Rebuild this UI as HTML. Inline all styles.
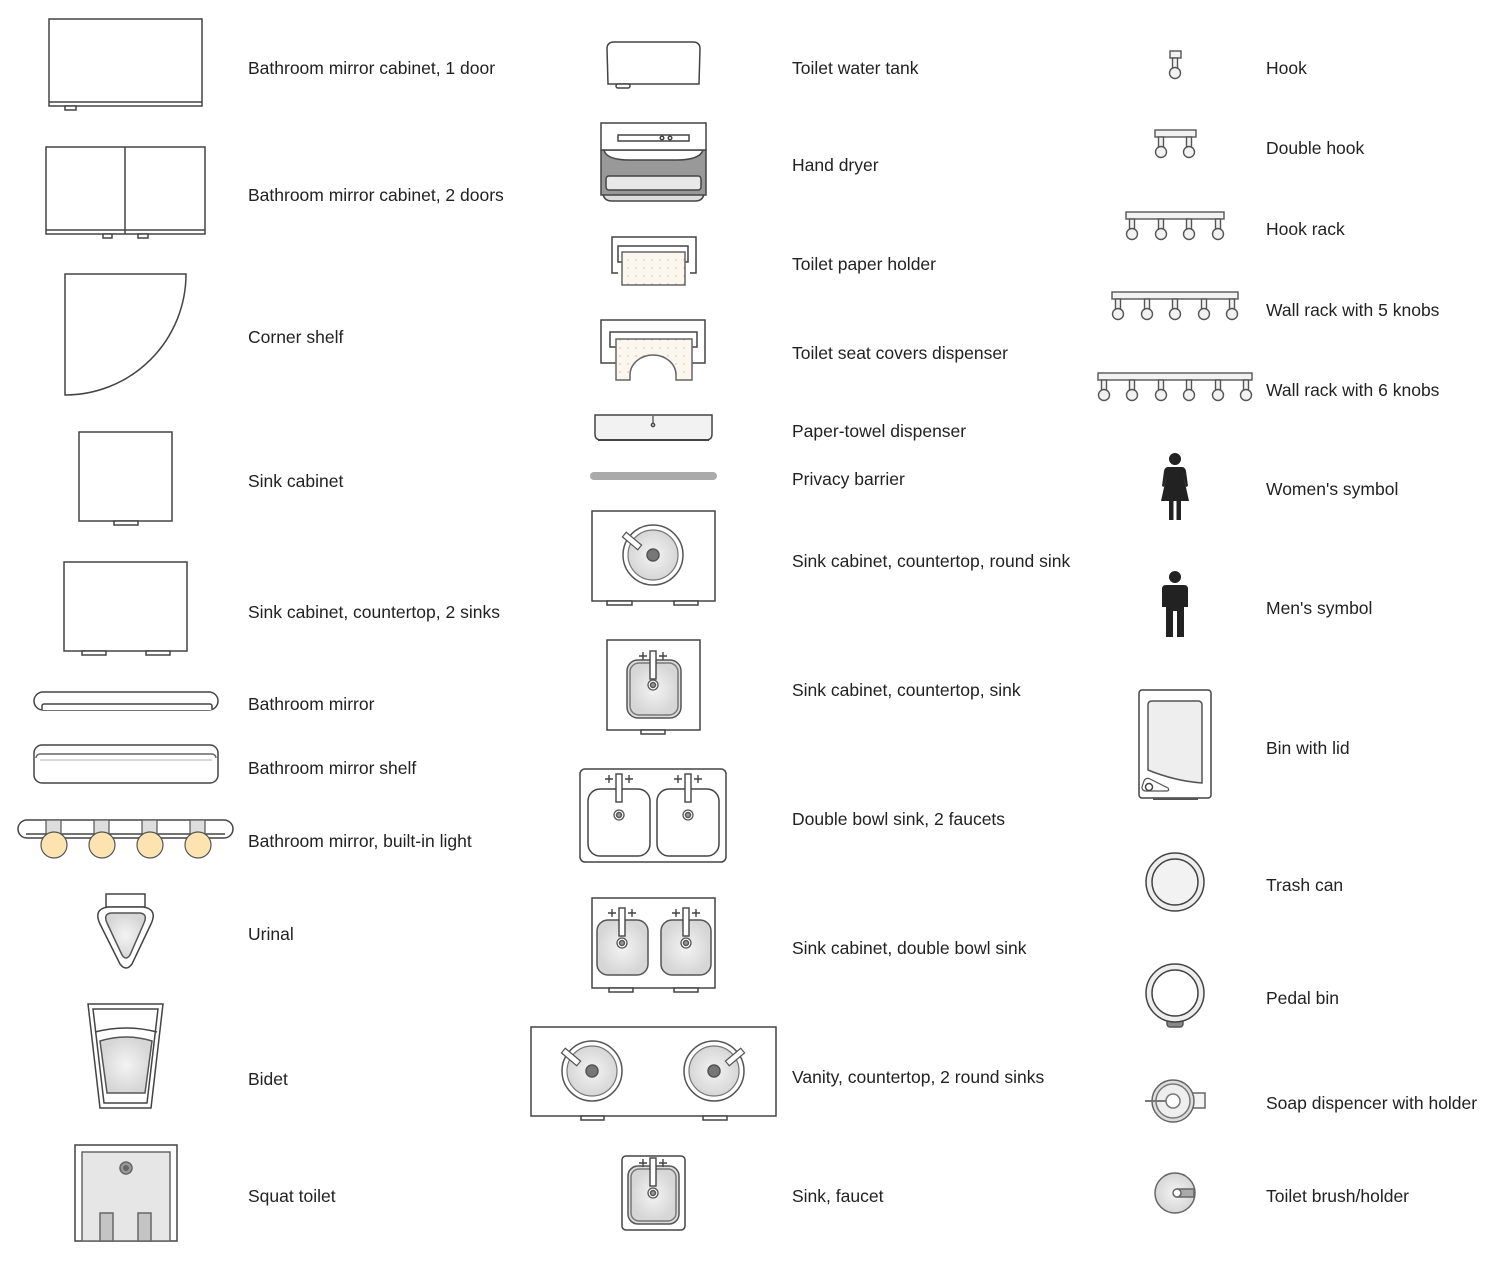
<!DOCTYPE html>
<html><head><meta charset="utf-8"><style>
html,body{margin:0;padding:0;background:#fff;}
svg{display:block}
text{font-family:"Liberation Sans",sans-serif;font-size:17.5px;fill:#222;dominant-baseline:central}
</style></head><body>
<svg width="1500" height="1264" viewBox="0 0 1500 1264" xmlns="http://www.w3.org/2000/svg">
<defs>
<radialGradient id="g1"><stop offset="0" stop-color="#f4f4f4"/><stop offset="1" stop-color="#d6d6d6"/></radialGradient>
<pattern id="dots" width="8" height="8" patternUnits="userSpaceOnUse"><rect width="8" height="8" fill="#fbf7ee"/><circle cx="4" cy="4" r="0.7" fill="#c8b89a"/></pattern>
<g id="roundsink">
 <circle r="30" fill="#fff" stroke="#555" stroke-width="1.5"/>
 <circle r="25" fill="url(#g1)" stroke="#777" stroke-width="1.2"/>
 <circle r="6" fill="#777" stroke="#555"/>
</g>
<g id="faucet" stroke="#444" stroke-width="1.4" fill="none">
 <path d="M-14,-4h8M-10,-8v8M6,-4h8M10,-8v8"/>
 <rect x="-3" y="-9" width="6" height="28" fill="#fff"/>
</g>
<g id="drain"><circle r="5" fill="#fff" stroke="#555" stroke-width="1.3"/><circle r="2.5" fill="#999" stroke="#555"/></g>
<g id="hk" stroke="#555" stroke-width="1.4" fill="#f2f2f2">
 <rect x="-2.5" y="0" width="5" height="10"/><circle cx="0" cy="15" r="5.5"/>
</g>
</defs>
<g fill="#fff" stroke="#444" stroke-width="1.5">
<rect x="49" y="19" width="153" height="87"/><line x1="49" y1="102" x2="202" y2="102"/><rect x="65" y="106" width="11" height="4"/>
<rect x="46" y="147" width="159" height="87"/><line x1="125" y1="147" x2="125" y2="234"/><line x1="46" y1="230" x2="205" y2="230"/>
<rect x="103" y="234" width="9" height="4"/><rect x="138" y="234" width="10" height="4"/>
<path d="M65,274 L186,274 A121,121 0 0 1 65,395 Z"/>
<rect x="79" y="432" width="93" height="89"/><rect x="114" y="521" width="24" height="4"/>
<rect x="64" y="562" width="123" height="89"/><rect x="82" y="651" width="24" height="4"/><rect x="146" y="651" width="24" height="4"/>
<rect x="34" y="692" width="184" height="18" rx="9"/><path d="M42,710 v-4 a2,2 0 0 1 2,-2 h166 a2,2 0 0 1 2,2 v4" />
<rect x="34" y="745" width="184" height="38" rx="8"/><path d="M36,758 a4,4 0 0 1 4,-4 h172 a4,4 0 0 1 4,4" stroke="#666"/><line x1="40" y1="760" x2="212" y2="760" stroke="#ccc"/>
<rect x="18" y="820" width="215" height="18" rx="9"/><line x1="26" y1="834" x2="225" y2="834"/>
<g fill="#ddd" stroke="#555" stroke-width="1.2"><rect x="46" y="820" width="15" height="14"/><rect x="94" y="820" width="15" height="14"/><rect x="142" y="820" width="15" height="14"/><rect x="190" y="820" width="15" height="14"/></g>
<g fill="#fde3b0" stroke="#555" stroke-width="1.2"><circle cx="54" cy="845" r="13"/><circle cx="102" cy="845" r="13"/><circle cx="150" cy="845" r="13"/><circle cx="198" cy="845" r="13"/></g>
<rect x="106" y="894" width="39" height="13"/>
<path d="M108,907 L143,907 Q158,909 151,924 L132,964 Q126,972 120,964 L100,924 Q93,909 108,907 Z"/>
<path d="M111,913 L140,913 Q148,914 144,923 L130,955 Q126,961 122,955 L107,923 Q103,914 111,913 Z" fill="url(#g1)" stroke="#555"/>
<path d="M88,1004 L163,1004 L151,1108 L100,1108 Z"/>
<path d="M93,1009 L158,1009 L147,1103 L104,1103 Z"/>
<path d="M95,1032 Q126,1024 157,1032" fill="none"/>
<path d="M100,1041 Q126,1033 152,1041 L145,1093 L107,1093 Z" fill="url(#g1)" stroke="#555"/>
<rect x="75" y="1145" width="102" height="96"/>
<rect x="82" y="1152" width="88" height="89" fill="#e6e6e6" stroke="#666"/>
<circle cx="126" cy="1168" r="6" fill="#999" stroke="#666"/><circle cx="126" cy="1168" r="3" fill="#666" stroke="none"/>
<rect x="100" y="1213" width="13" height="28" fill="#c4c4c4" stroke="#666"/><rect x="138" y="1213" width="13" height="28" fill="#c4c4c4" stroke="#666"/>

<path d="M614,42 H693 Q700,42 700,49 L699,84 H608 L607,49 Q607,42 614,42 Z"/><rect x="616" y="84" width="14" height="4" rx="2"/>
<path d="M603,180 H704 V192 Q704,201 695,201 H612 Q603,201 603,192 Z" fill="#ddd"/>
<rect x="601" y="150" width="105" height="45" fill="#999"/>
<path d="M604,150 Q606,160 630,160 H676 Q700,160 703,150 Z" fill="#fff"/>
<rect x="606" y="176" width="95" height="14" rx="3" fill="#e8e8e8"/>
<rect x="601" y="123" width="105" height="27"/><rect x="618" y="135" width="71" height="6"/>
<circle cx="662" cy="138" r="1.8" fill="#fff"/><circle cx="670" cy="138" r="1.8" fill="#fff"/>
<path d="M618,273 H612 V237 H696 V273 H690"/><path d="M622,262 H618 V246 H688 V262 H685"/>
<rect x="622" y="252" width="63" height="33" fill="url(#dots)" stroke="#666"/>
<path d="M616,363 H601 V320 H705 V363 H692"/><path d="M616,347 H610 V332 H697 V347 H692"/>
<path d="M616,339 H692 V380 H676 V375 A23,20 0 0 0 630,375 V380 H616 Z" fill="url(#dots)" stroke="#666"/>
<path d="M595,415 H712 V434 Q712,440 706,440 H601 Q595,440 595,434 Z" fill="#f2f2f2"/><line x1="598" y1="440" x2="709" y2="440" stroke-width="2"/>
<line x1="653" y1="416" x2="653" y2="424" stroke-width="1.2"/><circle cx="653" cy="425" r="1.6"/>
<line x1="594" y1="476" x2="713" y2="476" stroke="#aaa" stroke-width="8" stroke-linecap="round"/>
<rect x="592" y="511" width="123" height="90"/><rect x="607" y="601" width="25" height="4"/><rect x="674" y="601" width="24" height="4"/>
<use href="#roundsink" x="653" y="555"/><rect x="-3" y="-10" width="6" height="20" transform="translate(632,541) rotate(-50)" fill="#fff" stroke="#555" stroke-width="1.2"/>
<rect x="607" y="640" width="93" height="90"/><rect x="641" y="730" width="24" height="4"/>
<rect x="627" y="660" width="54" height="58" rx="11" fill="#ddd" stroke="#555"/><rect x="630" y="663" width="48" height="52" rx="9" fill="url(#g1)" stroke="#777"/>
<use href="#faucet" x="653" y="660"/><use href="#drain" x="653" y="685"/>
<rect x="580" y="769" width="146" height="93" rx="5"/>
<rect x="588" y="789" width="62" height="67" rx="12"/><rect x="657" y="789" width="62" height="67" rx="12"/>
<use href="#faucet" x="619" y="783"/><use href="#faucet" x="688" y="783"/><use href="#drain" x="619" y="815"/><use href="#drain" x="688" y="815"/>
<rect x="592" y="898" width="123" height="90"/><rect x="609" y="988" width="24" height="4"/><rect x="674" y="988" width="24" height="4"/>
<rect x="597" y="920" width="51" height="55" rx="11" fill="url(#g1)" stroke="#555"/><rect x="661" y="920" width="50" height="55" rx="11" fill="url(#g1)" stroke="#555"/>
<use href="#faucet" x="622" y="917"/><use href="#faucet" x="686" y="917"/><use href="#drain" x="622" y="943"/><use href="#drain" x="686" y="943"/>
<rect x="531" y="1027" width="245" height="89"/><rect x="581" y="1116" width="23" height="4"/><rect x="703" y="1116" width="24" height="4"/>
<use href="#roundsink" x="592" y="1071"/><use href="#roundsink" x="714" y="1071"/>
<rect x="-3" y="-10" width="6" height="20" transform="translate(571,1057) rotate(-50)" fill="#fff" stroke="#555" stroke-width="1.2"/>
<rect x="-3" y="-10" width="6" height="20" transform="translate(735,1057) rotate(50)" fill="#fff" stroke="#555" stroke-width="1.2"/>
<rect x="622" y="1156" width="63" height="74" rx="4"/>
<rect x="628" y="1166" width="51" height="58" rx="10" fill="#ddd" stroke="#555"/><rect x="631" y="1169" width="45" height="52" rx="8" fill="url(#g1)" stroke="#777"/>
<use href="#faucet" x="653" y="1167"/><use href="#drain" x="653" y="1193"/>

<rect x="1170" y="51" width="11" height="7" fill="#f2f2f2" stroke="#555" stroke-width="1.4"/><use href="#hk" x="1175" y="58"/>
<rect x="1155" y="130" width="41" height="7" fill="#f2f2f2" stroke="#555" stroke-width="1.4"/><use href="#hk" x="1161" y="137"/><use href="#hk" x="1189" y="137"/>
<rect x="1126" y="212" width="98" height="7" fill="#f2f2f2" stroke="#555" stroke-width="1.4"/>
<use href="#hk" x="1132" y="219"/><use href="#hk" x="1161" y="219"/><use href="#hk" x="1189" y="219"/><use href="#hk" x="1218" y="219"/>
<rect x="1112" y="292" width="126" height="7" fill="#f2f2f2" stroke="#555" stroke-width="1.4"/>
<use href="#hk" x="1118" y="299"/><use href="#hk" x="1147" y="299"/><use href="#hk" x="1175" y="299"/><use href="#hk" x="1204" y="299"/><use href="#hk" x="1232" y="299"/>
<rect x="1098" y="373" width="154" height="7" fill="#f2f2f2" stroke="#555" stroke-width="1.4"/>
<use href="#hk" x="1104" y="380"/><use href="#hk" x="1132" y="380"/><use href="#hk" x="1161" y="380"/><use href="#hk" x="1189" y="380"/><use href="#hk" x="1218" y="380"/><use href="#hk" x="1246" y="380"/>
<g fill="#222" stroke="none">
<circle cx="1175" cy="459" r="6"/>
<path d="M1168,467 H1182 Q1185,467 1186,471 L1188,486 L1186,487 L1183,474 L1189,501 H1181 V520 H1176.5 V501 H1173.5 V520 H1169 V501 H1161 L1167,474 L1164,487 L1162,486 L1164,471 Q1165,467 1168,467 Z"/>
<circle cx="1175" cy="577" r="6"/>
<path d="M1166,585 H1184 Q1188,585 1188,589 V607 H1184 V593 V637 H1177 V611 H1173 V637 H1166 V593 V607 H1162 V589 Q1162,585 1166,585 Z"/>
</g>
<rect x="1139" y="690" width="72" height="108" rx="3"/>
<path d="M1152,701 H1198 Q1202,701 1202,705 V783 Q1175,781 1148,770 V705 Q1148,701 1152,701 Z" fill="#eee" stroke="#555"/>
<path d="M1144,781 Q1146,777 1150,779 L1168,788 Q1170,791 1166,791 H1146 Q1142,791 1142,787 Z" fill="#fff" stroke="#555" stroke-width="1.2"/><circle cx="1149" cy="787" r="3.5"/>
<rect x="1153" y="798" width="45" height="2" fill="#555" stroke="none"/>
<circle cx="1175" cy="882" r="29" fill="#eee"/><circle cx="1175" cy="882" r="23" fill="#f2f2f2"/>
<rect x="1167" y="1017" width="16" height="10" rx="3" fill="#888" stroke="#555"/>
<circle cx="1175" cy="993" r="29" fill="#eee"/><circle cx="1175" cy="993" r="23" fill="#fff"/>
<rect x="1192" y="1093" width="13" height="15" fill="#f2f2f2" stroke="#666"/>
<circle cx="1173" cy="1101" r="21" fill="#ddd" stroke="#666"/><circle cx="1173" cy="1101" r="17" fill="#eee" stroke="#777"/>
<line x1="1145" y1="1101" x2="1166" y2="1101" stroke="#777" stroke-width="2"/><circle cx="1173" cy="1101" r="7" fill="#fff" stroke="#777"/>
<circle cx="1175" cy="1193" r="20" fill="url(#g1)" stroke="#666"/><rect x="1177" y="1189" width="17" height="8" fill="#aaa" stroke="#666"/><circle cx="1177" cy="1193" r="4" fill="#fff" stroke="#666"/>
</g>
<text x="248" y="68">Bathroom mirror cabinet, 1 door</text>
<text x="248" y="195">Bathroom mirror cabinet, 2 doors</text>
<text x="248" y="337">Corner shelf</text>
<text x="248" y="481">Sink cabinet</text>
<text x="248" y="612">Sink cabinet, countertop, 2 sinks</text>
<text x="248" y="704">Bathroom mirror</text>
<text x="248" y="768">Bathroom mirror shelf</text>
<text x="248" y="841">Bathroom mirror, built-in light</text>
<text x="248" y="934">Urinal</text>
<text x="248" y="1079">Bidet</text>
<text x="248" y="1196">Squat toilet</text>
<text x="792" y="68">Toilet water tank</text>
<text x="792" y="165">Hand dryer</text>
<text x="792" y="264">Toilet paper holder</text>
<text x="792" y="353">Toilet seat covers dispenser</text>
<text x="792" y="431">Paper-towel dispenser</text>
<text x="792" y="479">Privacy barrier</text>
<text x="792" y="561">Sink cabinet, countertop, round sink</text>
<text x="792" y="690">Sink cabinet, countertop, sink</text>
<text x="792" y="819">Double bowl sink, 2 faucets</text>
<text x="792" y="948">Sink cabinet, double bowl sink</text>
<text x="792" y="1077">Vanity, countertop, 2 round sinks</text>
<text x="792" y="1196">Sink, faucet</text>
<text x="1266" y="68">Hook</text>
<text x="1266" y="148">Double hook</text>
<text x="1266" y="229">Hook rack</text>
<text x="1266" y="310">Wall rack with 5 knobs</text>
<text x="1266" y="390">Wall rack with 6 knobs</text>
<text x="1266" y="489">Women's symbol</text>
<text x="1266" y="608">Men's symbol</text>
<text x="1266" y="748">Bin with lid</text>
<text x="1266" y="885">Trash can</text>
<text x="1266" y="998">Pedal bin</text>
<text x="1266" y="1103">Soap dispencer with holder</text>
<text x="1266" y="1196">Toilet brush/holder</text>
</svg>
</body></html>
